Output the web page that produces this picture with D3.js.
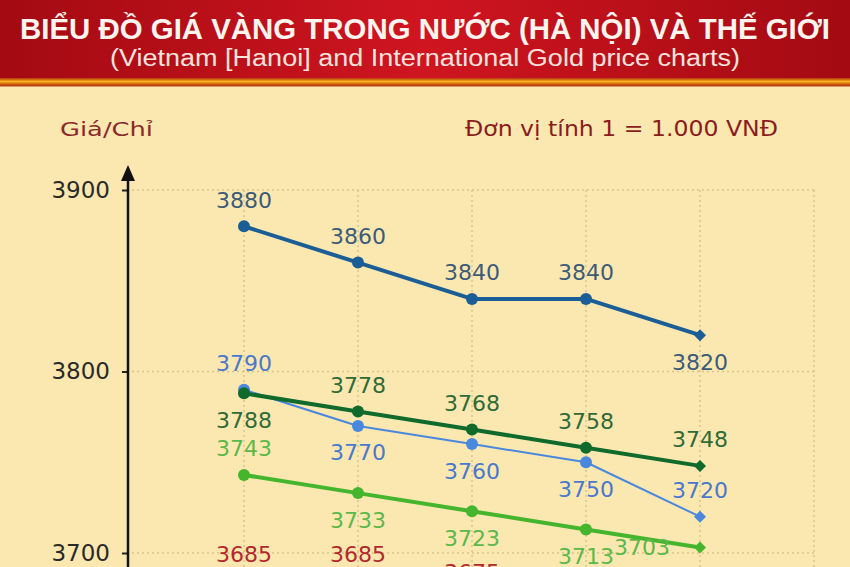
<!DOCTYPE html>
<html>
<head>
<meta charset="utf-8">
<script src="https://cdn.jsdelivr.net/npm/d3@7"></script>
<style>
  body { margin: 0; background: #fbe8b1; }
  svg { display: block; }
</style>
</head>
<body>
<div id="chart"></div>
<script>
// data
var days = ["1", "2", "3", "4", "5"];
var hanoiSell   = [3880, 3860, 3840, 3840, 3820];
var worldSell   = [3790, 3770, 3760, 3750, 3720];
var hanoiBuy    = [3788, 3778, 3768, 3758, 3748];
var worldBuy    = [3743, 3733, 3723, 3713, 3703];
var otherBuy    = [3685, 3685, 3675, 3660, 3650];
var yTicks = [3700, 3800, 3900];

// series styles
var series = [
  { values: hanoiSell, line: "#1b5e96", text: "#3d5b78", width: 4, r: 6, place: ["a", "a", "a", "a", "b"] },
  { values: worldSell, line: "#4a88dd", text: "#4a78cc", width: 2, r: 6, place: ["a", "b", "b", "b", "a"] },
  { values: hanoiBuy,  line: "#0f6a2c", text: "#2f6a37", width: 4, r: 6, place: ["b", "a", "a", "a", "a"] },
  { values: worldBuy,  line: "#44b52d", text: "#5cb84a", width: 4, r: 6, place: ["a", "b", "b", "b", "l"] },
  { values: otherBuy,  line: "#c03030", text: "#b3282c", width: 4, r: 6, place: ["a", "a", "a", "a", "a"] }
];

var W = 850, H = 567;
var svg = d3.select("#chart").append("svg")
    .attr("width", W).attr("height", H);

var defs = svg.append("defs");
var hg = defs.append("linearGradient").attr("id", "hdr").attr("x1", 0).attr("x2", 1);
hg.append("stop").attr("offset", "0%").attr("stop-color", "#a30a12");
hg.append("stop").attr("offset", "50%").attr("stop-color", "#cf1520");
hg.append("stop").attr("offset", "100%").attr("stop-color", "#a30a12");
var sg = defs.append("linearGradient").attr("id", "stripe").attr("x1", 0).attr("x2", 0).attr("y1", 0).attr("y2", 1);
sg.append("stop").attr("offset", "0%").attr("stop-color", "#b5360a");
sg.append("stop").attr("offset", "50%").attr("stop-color", "#f6b21c");
sg.append("stop").attr("offset", "100%").attr("stop-color", "#c2420c");

// header
svg.append("rect").attr("x", 0).attr("y", 0).attr("width", W).attr("height", 80).attr("fill", "url(#hdr)");
svg.append("rect").attr("x", 0).attr("y", 78).attr("width", W).attr("height", 7).attr("fill", "url(#stripe)");
svg.append("rect").attr("x", 0).attr("y", 85).attr("width", W).attr("height", 1.5).attr("fill", "#b8431a");

svg.append("text")
    .attr("x", 20).attr("y", 39)
    .attr("textLength", 810).attr("lengthAdjust", "spacingAndGlyphs")
    .attr("font-family", "'Liberation Sans', Arial, sans-serif")
    .attr("font-weight", "bold")
    .attr("font-size", 30)
    .attr("fill", "#fff5ee")
    .text("BIỂU ĐỒ GIÁ VÀNG TRONG NƯỚC (HÀ NỘI) VÀ THẾ GIỚI");
svg.append("text")
    .attr("x", 110).attr("y", 66)
    .attr("textLength", 630).attr("lengthAdjust", "spacingAndGlyphs")
    .attr("font-family", "'Liberation Sans', Arial, sans-serif")
    .attr("font-size", 23)
    .attr("fill", "#fbe3df")
    .text("(Vietnam [Hanoi] and International Gold price charts)");

// scales
var x = d3.scaleLinear().domain([0, days.length]).range([244, 814]);
var y = d3.scaleLinear().domain([3700, 3900]).range([553, 190]);
var font = "'DejaVu Sans', Verdana, sans-serif";

// grid
var grid = svg.append("g").attr("stroke", "#d6c38a").attr("stroke-width", 1.5).attr("stroke-dasharray", "2,3");
grid.selectAll(".hg").data(yTicks).enter().append("line")
    .attr("x1", 132).attr("x2", x(days.length))
    .attr("y1", d => y(d)).attr("y2", d => y(d));
grid.selectAll(".vg").data(d3.range(days.length + 1)).enter().append("line")
    .attr("x1", d => x(d)).attr("x2", d => x(d))
    .attr("y1", y(3900)).attr("y2", H);

// y axis
var yAxis = d3.axisLeft(y).tickValues(yTicks).tickFormat(d3.format("d")).tickSize(6).tickPadding(12);
var ax = svg.append("g").attr("transform", "translate(128,0)").call(yAxis);
ax.select(".domain").remove();
ax.selectAll(".tick line").attr("stroke", "#222").attr("stroke-width", 2);
ax.selectAll(".tick text").attr("font-family", font).attr("font-size", 23).attr("fill", "#2a2a2a");
svg.append("line").attr("x1", 128).attr("x2", 128).attr("y1", 176).attr("y2", H)
    .attr("stroke", "#111").attr("stroke-width", 2.5);
svg.append("path").attr("d", "M128,165 L121,181 L135,181 Z").attr("fill", "#111");

svg.append("text").attr("x", 60).attr("y", 136)
    .attr("textLength", 93).attr("lengthAdjust", "spacingAndGlyphs")
    .attr("font-family", font).attr("font-size", 20).attr("fill", "#8b2a2a")
    .text("Giá/Chỉ");
svg.append("text").attr("x", 465).attr("y", 136)
    .attr("textLength", 313).attr("lengthAdjust", "spacingAndGlyphs")
    .attr("font-family", font).attr("font-size", 21).attr("fill", "#8b1c1c")
    .text("Đơn vị tính 1 = 1.000 VNĐ");

// lines
var line = d3.line().x((d, i) => x(i)).y(d => y(d));
series.forEach(function(s) {
  var g = svg.append("g");
  g.append("path").datum(s.values)
      .attr("d", line).attr("fill", "none")
      .attr("stroke", s.line).attr("stroke-width", s.width)
      .attr("stroke-linejoin", "round");
  var last = s.values.length - 1;
  g.selectAll("circle").data(s.values.slice(0, last)).enter().append("circle")
      .attr("cx", (d, i) => x(i)).attr("cy", d => y(d)).attr("r", s.r)
      .attr("fill", s.line);
  g.append("path")
      .attr("transform", "translate(" + x(last) + "," + y(s.values[last]) + ")")
      .attr("d", "M0,-6 L6,0 L0,6 L-6,0 Z").attr("fill", s.line);
  g.selectAll("text").data(s.values).enter().append("text")
      .attr("x", (d, i) => s.place[i] == "l" ? x(i) - 58 : x(i))
      .attr("y", (d, i) => y(d) + (s.place[i] == "a" ? -26 : s.place[i] == "b" ? 27 : 0))
      .attr("text-anchor", "middle")
      .attr("dominant-baseline", "central")
      .attr("font-family", font).attr("font-size", 22)
      .attr("fill", s.text)
      .text(d => d);
});
</script>
</body>
</html>
